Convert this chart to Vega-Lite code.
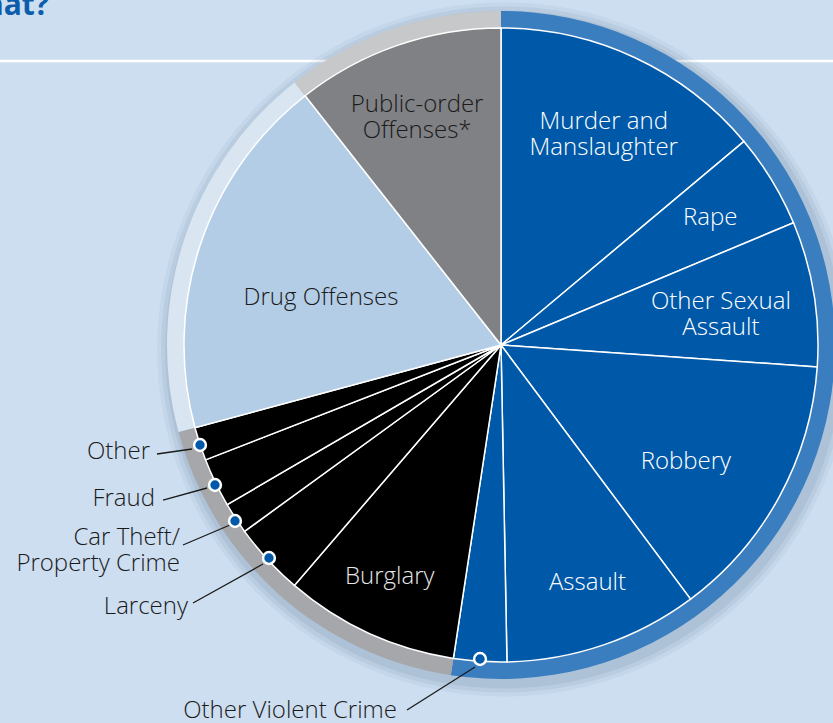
{
  "$schema": "https://vega.github.io/schema/vega-lite/v6.json",
  "width": 833,
  "height": 723,
  "autosize": {"type": "none"},
  "padding": 0,
  "background": "#cddef0",
  "config": {"view": {"stroke": null}, "font": "Open Sans"},
  "title": {"text": "What?", "anchor": "start", "frame": "group", "orient": "top", "offset": 0, "dx": -45, "dy": 45, "baseline": "alphabetic", "fontSize": 30, "fontWeight": "bold", "color": "#0b5cab", "font": "Open Sans"},
  "datasets": {
    "slices": [
      {"name": "Murder and Manslaughter", "label": "Murder and\nManslaughter", "grp": "Violent", "pct": 13.9, "ord": 1},
      {"name": "Rape", "label": "Rape", "grp": "Violent", "pct": 4.8, "ord": 2},
      {"name": "Other Sexual Assault", "label": "Other Sexual\nAssault", "grp": "Violent", "pct": 7.4, "ord": 3},
      {"name": "Robbery", "label": "Robbery", "grp": "Violent", "pct": 13.7, "ord": 4},
      {"name": "Assault", "label": "Assault", "grp": "Violent", "pct": 9.9, "ord": 5},
      {"name": "Other Violent Crime", "label": "", "grp": "Violent", "pct": 2.7, "ord": 6},
      {"name": "Burglary", "label": "Burglary", "grp": "Property", "pct": 8.9, "ord": 7},
      {"name": "Larceny", "label": "", "grp": "Property", "pct": 3.7, "ord": 8},
      {"name": "Car Theft/Property Crime", "label": "", "grp": "Property", "pct": 1.6, "ord": 9},
      {"name": "Fraud", "label": "", "grp": "Property", "pct": 2.5, "ord": 10},
      {"name": "Other", "label": "", "grp": "Property", "pct": 1.7, "ord": 11},
      {"name": "Drug Offenses", "label": "Drug Offenses", "grp": "Drug", "pct": 18.6, "ord": 12},
      {"name": "Public-order Offenses*", "label": "Public-order\nOffenses*", "grp": "Public-order", "pct": 10.6, "ord": 13}
    ],
    "groups": [
      {"grp": "Violent", "pct": 52.4, "ord": 1},
      {"grp": "Property", "pct": 18.4, "ord": 2},
      {"grp": "Drug", "pct": 18.6, "ord": 3},
      {"grp": "Public-order", "pct": 10.6, "ord": 4}
    ],
    "whole": [{"pct": 100}],
    "frame": [{"v": 0.8959}],
    "callouts": [
      {"name": "Other", "label": "Other", "tx": -1.1073, "ty": -0.3375, "ax": -1.0852, "ay": -0.3438, "bx": -0.9748, "by": -0.3281, "px": -0.9495, "py": -0.3155},
      {"name": "Fraud", "label": "Fraud", "tx": -1.0915, "ty": -0.4858, "ax": -1.0662, "ay": -0.4890, "bx": -0.9274, "by": -0.4511, "px": -0.9022, "py": -0.4416},
      {"name": "Car Theft/Property Crime", "label": "Car Theft/\nProperty Crime", "tx": -1.0126, "ty": -0.6514, "ax": -1.0032, "ay": -0.6309, "bx": -0.8549, "by": -0.5678, "px": -0.8391, "py": -0.5552},
      {"name": "Larceny", "label": "Larceny", "tx": -0.9874, "ty": -0.8265, "ax": -0.9716, "ay": -0.8139, "bx": -0.7508, "by": -0.6909, "px": -0.7319, "py": -0.6719},
      {"name": "Other Violent Crime", "label": "Other Violent Crime", "tx": -0.3281, "ty": -1.1546, "ax": -0.2965, "ay": -1.1514, "bx": -0.0820, "by": -1.0158, "px": -0.0662, "py": -0.9905}
    ]
  },
  "resolve": {"scale": {"color": "independent"}},
  "layer": [
    {
      "data": {"name": "frame"},
      "mark": {"type": "rule", "color": "#ffffff", "strokeWidth": 2.5},
      "encoding": {
        "y": {"field": "v", "type": "quantitative", "scale": {"domain": [-1.1924, 1.0883], "nice": false, "zero": false}, "axis": null}
      }
    },
    {
      "data": {"name": "whole"},
      "mark": {"type": "arc", "radius": 347, "fill": "#2f4f70", "opacity": 0.05},
      "encoding": {
        "theta": {"field": "pct", "type": "quantitative", "scale": {"domain": [0, 100]}},
        "x": {"datum": 0.01, "type": "quantitative", "scale": {"domain": [-1.5804, 1.0473], "nice": false, "zero": false}, "axis": null},
        "y": {"datum": -0.014, "type": "quantitative", "scale": {"domain": [-1.1924, 1.0883], "nice": false, "zero": false}, "axis": null}
      }
    },
    {
      "data": {"name": "whole"},
      "mark": {"type": "arc", "radius": 343, "fill": "#2f4f70", "opacity": 0.07},
      "encoding": {
        "theta": {"field": "pct", "type": "quantitative", "scale": {"domain": [0, 100]}},
        "x": {"datum": 0.01, "type": "quantitative", "scale": {"domain": [-1.5804, 1.0473], "nice": false, "zero": false}, "axis": null},
        "y": {"datum": -0.014, "type": "quantitative", "scale": {"domain": [-1.1924, 1.0883], "nice": false, "zero": false}, "axis": null}
      }
    },
    {
      "data": {"name": "whole"},
      "mark": {"type": "arc", "radius": 339, "fill": "#2f4f70", "opacity": 0.08},
      "encoding": {
        "theta": {"field": "pct", "type": "quantitative", "scale": {"domain": [0, 100]}},
        "x": {"datum": 0.01, "type": "quantitative", "scale": {"domain": [-1.5804, 1.0473], "nice": false, "zero": false}, "axis": null},
        "y": {"datum": -0.014, "type": "quantitative", "scale": {"domain": [-1.1924, 1.0883], "nice": false, "zero": false}, "axis": null}
      }
    },
    {
      "data": {"name": "groups"},
      "mark": {"type": "arc", "radius": 334},
      "encoding": {
        "theta": {"field": "pct", "type": "quantitative", "stack": true, "scale": {"domain": [0, 100]}},
        "order": {"field": "ord", "type": "quantitative"},
        "color": {"field": "grp", "type": "nominal", "scale": {"domain": ["Violent", "Property", "Drug", "Public-order"], "range": ["#3a7ebf", "#a6a7aa", "#d9e6f2", "#c7c8ca"]}, "legend": null},
        "x": {"datum": 0, "type": "quantitative", "scale": {"domain": [-1.5804, 1.0473], "nice": false, "zero": false}, "axis": null},
        "y": {"datum": 0, "type": "quantitative", "scale": {"domain": [-1.1924, 1.0883], "nice": false, "zero": false}, "axis": null}
      }
    },
    {
      "data": {"name": "slices"},
      "mark": {"type": "arc", "radius": 317, "stroke": "#ffffff", "strokeWidth": 1.5},
      "encoding": {
        "theta": {"field": "pct", "type": "quantitative", "stack": true, "scale": {"domain": [0, 100]}},
        "order": {"field": "ord", "type": "quantitative"},
        "color": {"field": "grp", "type": "nominal", "scale": {"domain": ["Violent", "Property", "Drug", "Public-order"], "range": ["#0059a8", "#000000", "#b3cde6", "#808184"]}, "legend": null},
        "detail": {"field": "name"},
        "x": {"datum": 0, "type": "quantitative", "scale": {"domain": [-1.5804, 1.0473], "nice": false, "zero": false}, "axis": null},
        "y": {"datum": 0, "type": "quantitative", "scale": {"domain": [-1.1924, 1.0883], "nice": false, "zero": false}, "axis": null}
      }
    },
    {
      "data": {"name": "slices"},
      "mark": {
        "type": "text", "align": "center", "baseline": "middle", "lineBreak": "\n", "fontSize": 24, "fontWeight": 300, "lineHeight": 26,
        "dy": {"expr": "indexof(datum.label, '\\n') >= 0 ? -13 : 0"},
        "radius": {"expr": "datum.name === 'Rape' ? 245 : datum.name === 'Other Sexual Assault' ? 222 : datum.name === 'Robbery' ? 219 : datum.name === 'Assault' ? 253 : datum.name === 'Burglary' ? 257 : datum.name === 'Drug Offenses' ? 186 : datum.name === 'Public-order Offenses*' ? 242 : 234"},
        "thetaOffset": {"expr": "datum.name === 'Murder and Manslaughter' ? 0.018 : datum.name === 'Other Sexual Assault' ? 0.026 : datum.name === 'Robbery' ? 0.066 : datum.name === 'Assault' ? -0.019 : datum.name === 'Burglary' ? 0.017 : datum.name === 'Drug Offenses' ? -0.066 : datum.name === 'Public-order Offenses*' ? -0.021 : 0"}
      },
      "encoding": {
        "theta": {"field": "pct", "type": "quantitative", "stack": true, "scale": {"domain": [0, 100]}},
        "order": {"field": "ord", "type": "quantitative"},
        "detail": {"field": "name"},
        "text": {"field": "label"},
        "color": {"condition": [{"test": "datum.grp === 'Violent'", "value": "#ffffff"}, {"test": "datum.grp === 'Property'", "value": "#e6e6e6"}], "value": "#1a1a1a"},
        "x": {"datum": 0, "type": "quantitative", "scale": {"domain": [-1.5804, 1.0473], "nice": false, "zero": false}, "axis": null},
        "y": {"datum": 0, "type": "quantitative", "scale": {"domain": [-1.1924, 1.0883], "nice": false, "zero": false}, "axis": null}
      }
    },
    {
      "data": {"name": "callouts"},
      "mark": {"type": "rule", "color": "#1a1a1a", "strokeWidth": 1.3},
      "encoding": {
        "x": {"field": "ax", "type": "quantitative", "scale": {"domain": [-1.5804, 1.0473], "nice": false, "zero": false}, "axis": null},
        "y": {"field": "ay", "type": "quantitative", "scale": {"domain": [-1.1924, 1.0883], "nice": false, "zero": false}, "axis": null},
        "x2": {"field": "bx"},
        "y2": {"field": "by"}
      }
    },
    {
      "data": {"name": "callouts"},
      "mark": {"type": "point", "shape": "circle", "filled": true, "fill": "#0059a8", "stroke": "#ffffff", "strokeWidth": 2.5, "size": 140, "opacity": 1, "strokeOpacity": 1},
      "encoding": {
        "x": {"field": "px", "type": "quantitative", "scale": {"domain": [-1.5804, 1.0473], "nice": false, "zero": false}, "axis": null},
        "y": {"field": "py", "type": "quantitative", "scale": {"domain": [-1.1924, 1.0883], "nice": false, "zero": false}, "axis": null}
      }
    },
    {
      "data": {"name": "callouts"},
      "mark": {"type": "text", "align": "right", "baseline": "middle", "lineBreak": "\n", "fontSize": 24, "fontWeight": 300, "lineHeight": 26, "color": "#1a1a1a",
        "dy": {"expr": "indexof(datum.label, '\\n') >= 0 ? -13 : 0"}},
      "encoding": {
        "text": {"field": "label"},
        "x": {"field": "tx", "type": "quantitative", "scale": {"domain": [-1.5804, 1.0473], "nice": false, "zero": false}, "axis": null},
        "y": {"field": "ty", "type": "quantitative", "scale": {"domain": [-1.1924, 1.0883], "nice": false, "zero": false}, "axis": null}
      }
    }
  ]
}
